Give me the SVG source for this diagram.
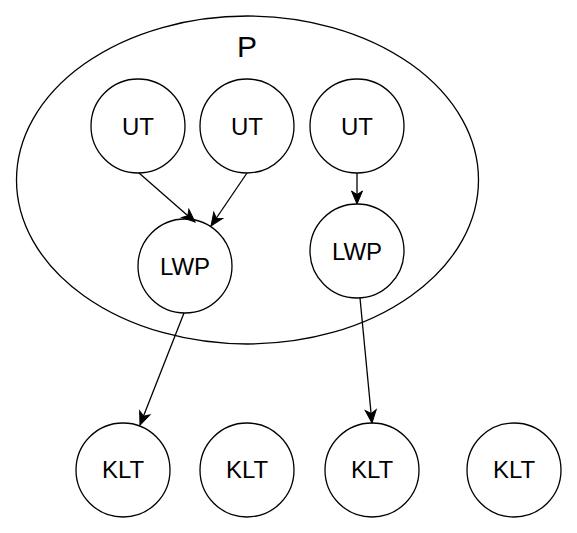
<svg xmlns="http://www.w3.org/2000/svg" width="577" height="533" viewBox="0 0 577 533">
<style>
.n{fill:#fff;stroke:#000;stroke-width:1.3}
.t{font-family:"Liberation Sans",Arial,sans-serif;font-size:24px;text-anchor:middle;fill:#000}
.e{fill:none;stroke:#000;stroke-width:1.3}
</style>
<defs>
<marker id="a" markerUnits="userSpaceOnUse" markerWidth="16" markerHeight="14" refX="13" refY="5.5" orient="auto" overflow="visible">
<path d="M0,0 L13,5.5 L0,11 L3.5,5.5 Z" fill="#000" stroke="#000" stroke-width="1"/>
</marker>
</defs>
<g id="P">
<ellipse class="n" cx="247.5" cy="180" rx="231" ry="164"/>
<text class="t" x="247" y="57" style="font-size:30px">P</text>
</g>
<g id="UT1"><circle class="n" cx="138" cy="126" r="47"/><text class="t" x="138" y="135">UT</text></g>
<g id="UT2"><circle class="n" cx="247" cy="126" r="47"/><text class="t" x="247" y="135">UT</text></g>
<g id="UT3"><circle class="n" cx="357" cy="126" r="47"/><text class="t" x="357" y="135">UT</text></g>
<g id="LWP1"><circle class="n" cx="185" cy="266" r="47"/><text class="t" x="185" y="275">LWP</text></g>
<g id="LWP2"><circle class="n" cx="357" cy="251" r="47"/><text class="t" x="357" y="260">LWP</text></g>
<g id="KLT1"><circle class="n" cx="123" cy="470" r="47"/><text class="t" x="123" y="478">KLT</text></g>
<g id="KLT2"><circle class="n" cx="247" cy="470" r="47"/><text class="t" x="247" y="478">KLT</text></g>
<g id="KLT3"><circle class="n" cx="372" cy="470" r="47"/><text class="t" x="372" y="478">KLT</text></g>
<g id="KLT4"><circle class="n" cx="514" cy="470" r="47"/><text class="t" x="514" y="478">KLT</text></g>
<g id="connectors">
<line class="e" x1="139" y1="173" x2="195" y2="222" marker-end="url(#a)"/>
<line class="e" x1="247" y1="173" x2="211" y2="226" marker-end="url(#a)"/>
<line class="e" x1="357" y1="173" x2="357" y2="204" marker-end="url(#a)"/>
<line class="e" x1="184" y1="313" x2="140" y2="425" marker-end="url(#a)"/>
<line class="e" x1="360" y1="298" x2="372" y2="423" marker-end="url(#a)"/>
</g>
</svg>
